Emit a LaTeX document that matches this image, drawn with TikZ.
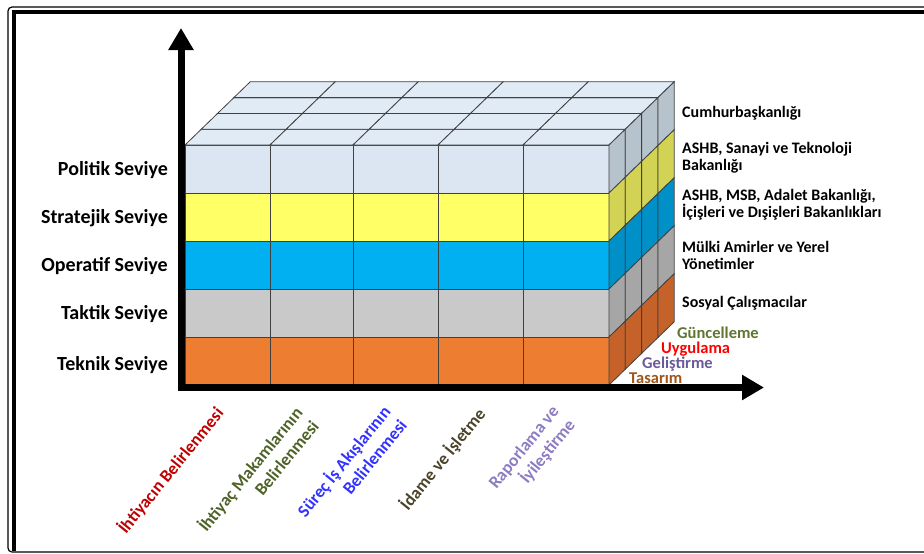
\documentclass[tikz,border=0pt]{standalone}
\usepackage{fontspec}
\setmainfont{Carlito}
\usepackage{tikz}
\usetikzlibrary{arrows.meta, positioning}

\definecolor{topFace}{HTML}{E1EBF6}
\definecolor{politikFront}{HTML}{DCE6F2}
\definecolor{politikSide}{HTML}{B6C2CC}
\definecolor{stratejikFront}{HTML}{FFFF66}
\definecolor{stratejikSide}{HTML}{D2D254}
\definecolor{operatifFront}{HTML}{00B0F0}
\definecolor{operatifSide}{HTML}{0090C8}
\definecolor{taktikFront}{HTML}{C9C9C9}
\definecolor{taktikSide}{HTML}{A6A6A6}
\definecolor{teknikFront}{HTML}{ED7D31}
\definecolor{teknikSide}{HTML}{C4622A}
\definecolor{edgeGray}{HTML}{404040}
\definecolor{olive}{HTML}{4F6228}
\definecolor{oliveLight}{HTML}{5F7530}
\definecolor{darkRed}{HTML}{C00000}
\definecolor{brightBlue}{HTML}{3333FF}
\definecolor{darkOlive}{HTML}{494429}
\definecolor{lavender}{HTML}{8E7CC3}
\definecolor{purple}{HTML}{6A5A9A}
\definecolor{brown}{HTML}{A0561A}

\begin{document}
\begin{tikzpicture}[x=1pt,y=-1pt,>={Triangle[length=22pt,width=24pt]},
    cell/.style={draw=edgeGray, line width=0.8pt},
    axis/.style={line width=7pt},
    level/.style={anchor=east, inner sep=0pt, font=\bfseries\fontsize{20}{22}\selectfont},
    office/.style={anchor=west, align=left, inner sep=0pt, font=\bfseries\fontsize{16}{17}\selectfont},
    phase/.style={anchor=west, inner sep=0pt, font=\bfseries\fontsize{16.5}{18}\selectfont},
    stage/.style={rotate=51, anchor=north east, align=right, inner sep=0pt,
        font=\bfseries\fontsize{17.5}{21}\selectfont}]

  \useasboundingbox (0,0) rectangle (924,554);

  % frame
  \draw[line width=1.2pt, rounded corners=4pt] (924,7) -- (8,7) -- (8,552) -- (924,552);
  \draw[line width=4pt] (924,12) -- (13.5,12) -- (13.5,551);

  \def\dx{16.3}
  \def\dy{-15.8}

  % front face
  \foreach \ya/\yb/\fc in {145/193/politikFront, 193/241/stratejikFront,
      241/289/operatifFront, 289/337/taktikFront, 337/385/teknikFront}
    \foreach \xa/\xb in {185/270, 270/353, 353/438, 438/523, 523/609}
      \filldraw[cell, fill=\fc] (\xa,\ya) rectangle (\xb,\yb);

  % top face
  \foreach \k in {0,...,3}
    \foreach \xa/\xb in {185/270, 270/353, 353/438, 438/523, 523/609}
      \filldraw[cell, fill=topFace]
        ({\xa+\k*\dx},{145+\k*\dy}) -- ({\xb+\k*\dx},{145+\k*\dy})
        -- ({\xb+(\k+1)*\dx},{145+(\k+1)*\dy}) -- ({\xa+(\k+1)*\dx},{145+(\k+1)*\dy}) -- cycle;

  % right face
  \foreach \ya/\yb/\sc in {145/193/politikSide, 193/241/stratejikSide,
      241/289/operatifSide, 289/337/taktikSide, 337/385/teknikSide}
    \foreach \k in {0,...,3}
      \filldraw[cell, fill=\sc]
        ({609+\k*\dx},{\ya+\k*\dy}) -- ({609+(\k+1)*\dx},{\ya+(\k+1)*\dy})
        -- ({609+(\k+1)*\dx},{\yb+(\k+1)*\dy}) -- ({609+\k*\dx},{\yb+\k*\dy}) -- cycle;

  % axes
  \coordinate (ytop) at (181,28);
  \coordinate (xend) at (764,387.5);
  \draw[axis,<->] (ytop) |- (xend);

  % levels
  \node[level] (politik)   at (168,170) {Politik Seviye};
  \node[level] (stratejik) at (168,218) {Stratejik Seviye};
  \node[level] (operatif)  at (168,266) {Operatif Seviye};
  \node[level] (taktik)    at (168,314) {Taktik Seviye};
  \node[level] (teknik)    at (168,365) {Teknik Seviye};

  % offices
  \node[office] (cumhur)  at (682,113) {Cumhurbaşkanlığı};
  \node[office] (sanayi)  at (682,158) {ASHB, Sanayi ve Teknoloji\\Bakanlığı};
  \node[office] (adalet)  at (682,205) {ASHB, MSB, Adalet Bakanlığı,\\İçişleri ve Dışişleri Bakanlıkları};
  \node[office] (mulki)   at (682,255) {Mülki Amirler ve Yerel\\Yönetimler};
  \node[office] (sosyal)  at (682,303) {Sosyal Çalışmacılar};

  % phases
  \node[phase, text=oliveLight] (guncelleme) at (677,333) {Güncelleme};
  \node[phase, text=red]        (uygulama)   at (661,349) {Uygulama};
  \node[phase, text=purple]     (gelistirme) at (642,364) {Geliştirme};
  \node[phase, text=brown]      (tasarim)    at (629,378) {Tasarım};

  % stages
  \node[stage, text=darkRed]    (ihtiyac) at (213,404) {İhtiyacın Belirlenmesi};
  \node[stage, text=olive]      (makam)   at (292,404) {İhtiyaç Makamlarının\\Belirlenmesi};
  \node[stage, text=brightBlue] (surec)   at (380,403) {Süreç İş Akışlarının\\Belirlenmesi};
  \node[stage, text=darkOlive]  (idame)   at (475,405) {İdame ve İşletme};
  \node[stage, text=lavender]   (rapor)   at (550,404) {Raporlama ve\\İyileştirme};
\end{tikzpicture}
\end{document}
